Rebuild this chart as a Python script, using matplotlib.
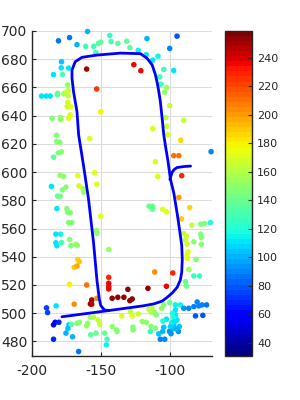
import numpy as np
import matplotlib.pyplot as plt

plt.rcParams['axes.unicode_minus'] = False
plt.rcParams['font.family'] = 'DejaVu Sans'

# scatter points: position and colour value
pt_x = [-181.1, -173.1, -160.0, -167.7, -161.4, -155.6, -152.2, -150.5, -154.1, -143.9,
        -143.0, -138.1, -131.6, -129.4, -123.3, -117.5, -117.0, -178.9, -179.1, -173.8,
        -184.7, -178.2, -160.7, -126.5, -121.4, -153.4, -174.5, -193.4, -190.0, -187.1,
        -181.8, -181.8, -177.2, -175.5, -173.8, -174.0, -174.3, -174.8, -172.1, -172.6,
        -173.8, -150.5, -185.7, -179.6, -179.6, -182.5, -182.5, -180.1, -181.1, -178.9,
        -184.7, -158.5, -179.9, -177.4, -167.2, -154.9, -153.4, -166.3, -186.2, -178.2,
        -175.7, -163.3, -162.9, -181.8, -179.9,
        -95.2, -100.5, -112.8, -109.0, -104.8, -97.6, -107.7, -106.8, -102.7, -104.1,
        -100.5, -90.3, -103.4, -102.7, -112.8, -101.9, -92.5, -70.5, -97.6, -93.9,
        -110.9, -109.2, -91.8, -93.9,
        -115.5, -182.3, -175.0, -174.3, -172.6, -150.5, -173.8, -171.4, -153.6, -153.2,
        -183.0, -179.6, -183.0, -178.9, -182.3, -173.1, -172.1, -168.7, -167.5, -144.7,
        -167.2, -166.0, -169.7, -167.7, -173.1, -160.7, -144.7, -144.7, -144.7, -144.7,
        -157.0, -158.0, -157.0, -153.2, -169.7, -142.2, -138.1, -133.7, -130.8, -129.4,
        -127.7, -116.3, -182.8, -189.8, -189.0, -184.7, -183.5, -180.8, -173.5, -174.3,
        -175.7, -170.9, -184.7, -166.5, -171.8, -167.7, -166.0, -160.9, -159.9, -158.0,
        -155.6, -152.4, -151.2, -157.8, -153.9, -147.6, -145.9, -146.4, -142.2, -139.1,
        -138.6, -135.2, -128.9, -127.7, -123.3, -127.2, -127.0, -120.4, -117.5, -115.5,
        -113.0, -113.0, -105.6, -102.9, -86.0, -92.0, -84.5, -78.0, -75.3, -71.0,
        -90.3, -88.4, -89.1, -87.9, -87.2, -87.9, -87.9, -83.0, -78.0, -77.5,
        -77.5, -81.4, -86.7, -83.0, -78.9, -89.1, -88.4, -111.4, -98.3, -102.9,
        -113.3, -106.5, -104.8, -100.5, -111.6, -114.0, -110.2, -96.4, -92.7, -96.4,
        -96.4, -95.2, -97.6, -98.8, -93.5, -94.2, -100.7, -104.8, -105.6, -108.5,
        -107.3, -104.1, -102.9, -90.3, -86.7, -83.0, -79.4, -77.0, -73.8, -81.8,
        -76.5, -80.6, -114.0, -110.9, -114.5, -105.4, -98.5, -97.8, -99.0, -97.0,
        -100.0, -96.0, -99.5]
pt_y = [692.9, 695.2, 699.5, 690.2, 689.0, 689.0, 691.0, 692.0, 684.5, 696.7,
        692.4, 691.0, 692.6, 688.1, 686.2, 683.1, 694.5, 678.1, 673.8, 673.6,
        669.0, 669.0, 672.9, 676.0, 671.7, 658.8, 661.7, 653.8, 653.8, 653.8,
        655.7, 654.8, 655.5, 656.4, 657.6, 654.0, 649.3, 646.4, 646.2, 640.5,
        638.1, 642.6, 638.1, 638.6, 637.1, 626.0, 621.7, 621.0, 613.6, 614.3,
        610.5, 623.8, 597.6, 596.9, 597.4, 599.5, 591.4, 590.2, 589.8, 587.4,
        589.3, 588.1, 585.7, 582.9, 582.9,
        696.2, 687.5, 679.2, 682.0, 672.6, 671.9, 667.4, 662.2, 659.8, 656.5,
        647.0, 636.6, 638.5, 632.4, 630.7, 626.5, 622.5, 614.4, 611.6, 611.6,
        607.3, 596.9, 597.4, 582.0,
        575.8, 574.1, 574.1, 571.3, 571.3, 568.7, 564.2, 564.2, 558.4, 556.5,
        556.0, 556.0, 549.9, 550.1, 547.8, 552.2, 547.8, 548.7, 548.2, 545.2,
        538.1, 536.5, 532.5, 533.4, 520.5, 520.0, 525.4, 521.2, 518.8, 517.2,
        509.4, 506.6, 506.4, 510.6, 506.4, 510.6, 511.3, 511.3, 516.9, 508.9,
        510.1, 517.6, 505.2, 503.8, 500.5, 491.8, 493.6, 493.6, 491.8, 489.2,
        485.9, 483.3, 481.6, 472.9, 492.2, 492.9, 493.4, 491.1, 492.9, 497.2,
        497.2, 495.1, 492.2, 484.8, 485.9, 485.9, 481.6, 477.6, 490.6, 488.2,
        487.0, 498.1, 501.2, 498.1, 499.5, 490.1, 488.2, 494.1, 493.6, 502.8,
        575.8, 573.6, 573.6, 571.8, 574.8, 566.8, 562.4, 563.1, 563.5, 564.2,
        556.5, 554.6, 551.8, 548.9, 543.5, 541.2, 538.8, 550.6, 556.0, 553.6,
        548.9, 538.1, 531.0, 526.4, 526.4, 522.4, 519.3, 529.2, 528.5, 519.1,
        503.5, 503.5, 505.9, 507.5, 500.5, 500.9, 498.8, 505.9, 505.9, 502.4,
        498.8, 495.3, 491.8, 488.7, 490.6, 487.1, 487.1, 490.1, 487.1, 485.4,
        481.6, 481.6, 495.8, 503.5, 503.5, 504.7, 505.2, 505.9, 505.9, 498.1,
        498.5, 508.0, 490.6, 489.4, 487.1, 494.4, 500.0, 497.0, 493.5, 494.0,
        490.5, 489.0, 485.5]
pt_val = [85, 85, 100, 100, 130, 130, 135, 135, 130, 125,
          130, 135, 135, 135, 115, 110, 100, 105, 110, 110,
          110, 130, 250, 235, 235, 225, 150, 110, 110, 110,
          140, 140, 155, 160, 165, 165, 168, 168, 170, 172,
          172, 180, 145, 150, 150, 145, 145, 145, 145, 145,
          135, 172, 150, 150, 170, 170, 170, 168, 110, 145,
          145, 155, 155, 140, 140,
          80, 90, 110, 115, 125, 110, 130, 130, 155, 150,
          165, 165, 160, 165, 170, 170, 185, 90, 210, 210,
          170, 170, 230, 200,
          140, 110, 145, 145, 145, 170, 145, 145, 150, 150,
          110, 115, 110, 130, 110, 145, 145, 150, 150, 155,
          185, 190, 190, 195, 180, 210, 230, 235, 235, 235,
          250, 250, 245, 205, 205, 255, 255, 255, 255, 255,
          255, 255, 110, 75, 75, 55, 60, 70, 105, 105,
          100, 100, 70, 85, 135, 145, 145, 150, 150, 155,
          160, 165, 165, 135, 140, 140, 130, 115, 150, 145,
          145, 170, 165, 170, 165, 145, 145, 150, 150, 160,
          140, 140, 170, 170, 185, 190, 165, 145, 145, 120,
          165, 165, 165, 168, 170, 170, 170, 150, 145, 145,
          145, 145, 155, 125, 125, 140, 140, 205, 230, 235,
          160, 150, 145, 140, 145, 160, 145, 115, 115, 110,
          110, 110, 105, 100, 105, 95, 95, 105, 100, 105,
          90, 90, 110, 95, 90, 90, 90, 90, 85, 80,
          80, 90, 145, 145, 130, 120, 120, 118, 115, 112,
          108, 100, 95]

# trajectory (blue line) and the short hook on its right side
path_x = [-178.6, -150.0, -135.0, -120.0, -112.0, -106.0, -102.3, -98.5, -95.1, -92.8,
          -91.8, -91.4, -91.8, -93.2, -95.0, -97.5, -99.9, -101.8, -103.5, -104.8,
          -106.0, -107.3, -108.4, -109.5, -110.8, -113.2, -116.9, -121.7, -136.3, -153.2,
          -164.1, -169.0, -171.3, -171.3, -170.2, -167.7, -166.5, -162.9, -159.3, -155.7,
          -153.2, -151.5, -150.5, -147.9, -145.0]
path_y = [497.5, 501.2, 503.2, 505.2, 506.6, 508.6, 511.3, 514.5, 518.4, 523.5,
          529.0, 538.0, 548.0, 558.0, 570.0, 585.0, 594.7, 608.0, 618.0, 626.3,
          638.1, 650.0, 656.9, 663.0, 668.7, 675.8, 680.5, 683.8, 684.2, 682.8,
          681.2, 678.1, 672.2, 666.4, 656.9, 642.8, 626.3, 604.2, 580.6, 550.0,
          523.1, 510.0, 505.5, 502.4, 501.8]
hook_x = [-100.4, -99.5, -98.7, -97.0, -95.1, -90.0, -85.4]
hook_y = [594.7, 597.5, 599.9, 602.0, 603.2, 603.9, 604.2]

x_ticks = [-200, -150, -100]
y_ticks = list(range(480, 701, 20))
cbar_ticks = list(range(40, 241, 20))

fig = plt.figure(figsize=(3, 4), dpi=100)
ax = fig.add_axes([0.108, 0.111, 0.598, 0.812])
cax = fig.add_axes([0.750, 0.111, 0.089, 0.812])

cmap = plt.get_cmap('jet', 64)
sc = ax.scatter(pt_x, pt_y, c=pt_val, cmap=cmap, vmin=31, vmax=259,
                s=16, linewidths=0, zorder=2, clip_on=False)
ax.plot(path_x, path_y, color='#0000ff', lw=2, zorder=3, solid_capstyle='round')
ax.plot(hook_x, hook_y, color='#0000ff', lw=2, zorder=3, solid_capstyle='round')

ax.set_xlim(-200, -70)
ax.set_ylim(470, 700)
ax.set_xticks(x_ticks)
ax.set_yticks(y_ticks)
ax.grid(True, color='#dcdcdc', lw=0.8)
ax.set_axisbelow(True)
for side in ['top', 'right']:
    ax.spines[side].set_visible(False)
for side in ['left', 'bottom']:
    ax.spines[side].set_color('#262626')
    ax.spines[side].set_linewidth(1.0)
ax.tick_params(direction='in', length=3, color='#262626', labelcolor='#262626',
               labelsize=10)
ax.tick_params(axis='x', pad=6)

cb = fig.colorbar(sc, cax=cax, ticks=cbar_ticks)
cb.outline.set_edgecolor('#262626')
cb.outline.set_linewidth(1.0)
cax.tick_params(direction='in', length=3, color='#262626', labelcolor='#262626',
                labelsize=8, pad=4)

fig.savefig('out.png', dpi=100)
